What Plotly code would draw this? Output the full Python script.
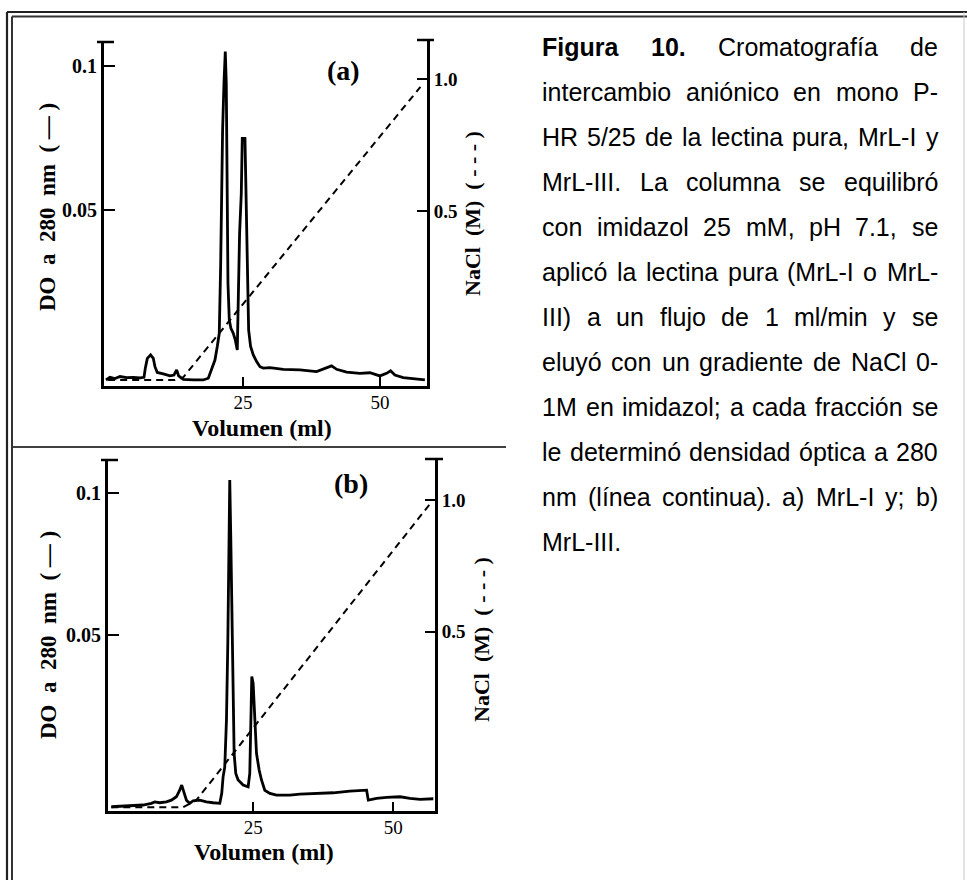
import plotly.graph_objects as go

W, H = 967, 880

# ---------------- data ----------------
# Panel (a): MrL-I
vol_a = [0.0, 0.73, 1.65, 2.56, 3.77, 4.99, 6.21, 6.94, 7.18, 7.55, 8.15, 8.64, 8.94, 9.37,
         10.47, 11.68, 12.41, 12.90, 13.26, 14.11, 15.94, 17.76, 18.68, 19.29, 19.89, 20.32,
         20.68, 20.93, 21.11, 21.29, 21.54, 21.78, 21.96, 22.08, 22.27, 22.51, 22.81, 23.24,
         23.60, 23.97, 24.15, 24.39, 24.70, 24.88, 25.37, 25.55, 25.79, 26.04, 26.40, 26.89,
         27.50, 28.11, 28.71, 29.93, 32.36, 35.40, 38.45, 39.97, 41.18, 42.10, 43.92, 46.35,
         48.18, 50.00, 51.22, 51.95, 52.74, 54.26, 56.09, 58.21]
do_a = [-0.0091, -0.0082, -0.0086, -0.0079, -0.0083, -0.0082, -0.0084, -0.0082, -0.0050,
        -0.0016, -0.0004, -0.0016, -0.0045, -0.0065, -0.0070, -0.0077, -0.0074, -0.0056,
        -0.0077, -0.0089, -0.0091, -0.0091, -0.0085, -0.0056, -0.0022, 0.0025, 0.0071,
        0.0302, 0.0615, 0.0777, 0.0939, 0.1049, 0.0939, 0.0650, 0.0245, 0.0117, 0.0088,
        0.0071, 0.0048, 0.0013, 0.0187, 0.0418, 0.0557, 0.0748, 0.0748, 0.0580, 0.0360,
        0.0083, 0.0025, -0.0004, -0.0027, -0.0045, -0.0050, -0.0048, -0.0054, -0.0056,
        -0.0062, -0.0050, -0.0042, -0.0054, -0.0064, -0.0068, -0.0066, -0.0077, -0.0068,
        -0.0059, -0.0074, -0.0083, -0.0087, -0.0091]
nacl_vol_a = [0.4, 12.6, 14.1, 57.4]
nacl_a = [-0.14, -0.14, -0.13, 0.97]

# Panel (b): MrL-III
vol_b = [-0.30, 1.19, 3.57, 5.36, 6.85, 7.44, 8.33, 9.52, 10.42, 11.31, 11.90, 12.26, 12.62,
         13.10, 13.69, 14.29, 15.48, 16.67, 17.86, 19.05, 19.40, 19.64, 19.94, 20.24, 20.48,
         20.65, 20.83, 21.01, 21.19, 21.37, 21.61, 21.90, 22.32, 23.21, 24.11, 24.40, 24.58,
         24.76, 25.00, 25.18, 25.36, 25.60, 26.07, 26.49, 27.08, 27.98, 29.17, 31.55, 33.33,
         36.31, 39.29, 42.26, 44.05, 45.24, 45.54, 47.02, 48.81, 51.19, 52.98, 54.76, 57.14]
do_b = [-0.0103, -0.0101, -0.0097, -0.0097, -0.0091, -0.0086, -0.0089, -0.0086, -0.0080,
        -0.0068, -0.0045, -0.0027, -0.0050, -0.0080, -0.0091, -0.0082, -0.0080, -0.0086,
        -0.0089, -0.0091, -0.0056, 0.0002, 0.0037, 0.0201, 0.0471, 0.0728, 0.1044, 0.0845,
        0.0600, 0.0260, 0.0084, 0.0014, -0.0009, -0.0027, -0.0033, 0.0014, 0.0260, 0.0354,
        0.0330, 0.0237, 0.0143, 0.0084, 0.0026, -0.0009, -0.0045, -0.0056, -0.0062, -0.0062,
        -0.0059, -0.0056, -0.0054, -0.0048, -0.0047, -0.0045, -0.0080, -0.0074, -0.0070,
        -0.0068, -0.0074, -0.0077, -0.0075]
nacl_vol_b = [-0.3, 12.5, 14.9, 56.6]
nacl_b = [-0.167, -0.167, -0.139, 0.987]

vol_ticks = [25, 50]
vol_ticktext = ["25", "50"]
do_ticks = [0.05, 0.1]
do_ticktext = ["0.05", "0.1"]
nacl_ticks = [0.5, 1.0]
nacl_ticktext = ["0.5", "1.0"]

caption_lines = [
    "Figura 10. Cromatografía de",
    "intercambio aniónico en mono P-",
    "HR 5/25 de la lectina pura, MrL-I y",
    "MrL-III. La columna se equilibró",
    "con imidazol 25 mM, pH 7.1, se",
    "aplicó la lectina pura (MrL-I o MrL-",
    "III) a un flujo de 1 ml/min y se",
    "eluyó con un gradiente de NaCl 0-",
    "1M en imidazol; a cada fracción se",
    "le determinó densidad óptica a 280",
    "nm (línea continua). a) MrL-I y; b)",
    "MrL-III.",
]
caption_bold_words = 2  # "Figura 10." is bold

# ---------------- helpers ----------------
def px(x):
    return x / W

def py(y):
    return 1 - y / H

SERIF = "Liberation Serif, Times New Roman, serif"
SANS = "Liberation Sans, Arial, sans-serif"

AR = {' ': 278, '(': 333, ')': 333, ',': 278, '-': 333, '.': 278, '/': 278, ':': 278, ';': 278,
      'A': 667, 'B': 667, 'C': 722, 'D': 722, 'E': 667, 'F': 611, 'G': 778, 'H': 722, 'I': 278,
      'J': 500, 'K': 667, 'L': 556, 'M': 833, 'N': 722, 'O': 778, 'P': 667, 'Q': 778, 'R': 722,
      'S': 667, 'T': 611, 'U': 722, 'V': 667, 'W': 944, 'X': 667, 'Y': 667, 'Z': 611,
      'a': 556, 'b': 556, 'c': 500, 'd': 556, 'e': 556, 'f': 278, 'g': 556, 'h': 556, 'i': 222,
      'j': 222, 'k': 500, 'l': 222, 'm': 833, 'n': 556, 'o': 556, 'p': 556, 'q': 556, 'r': 333,
      's': 500, 't': 278, 'u': 556, 'v': 500, 'w': 722, 'x': 500, 'y': 500, 'z': 500,
      'á': 556, 'é': 556, 'í': 278, 'ó': 556, 'ú': 556}
ARB = dict(AR)
ARB.update({'a': 556, 'b': 611, 'd': 611, 'f': 333, 'g': 611, 'i': 278, 'l': 278, 'm': 889,
            'n': 611, 'o': 611, 'p': 611, 'r': 389, 's': 556, 't': 333, 'u': 611, 'F': 611})


def text_w(s, size, bold=False):
    tab = ARB if bold else AR
    return sum(tab.get(c, 556) for c in s) * size / 1000.0


fig = go.Figure()

# ---------------- traces ----------------
fig.add_trace(go.Scatter(x=vol_a, y=do_a, mode="lines", line=dict(color="black", width=2.8),
                         xaxis="x", yaxis="y", showlegend=False))
fig.add_trace(go.Scatter(x=nacl_vol_a, y=nacl_a, mode="lines",
                         line=dict(color="black", width=2, dash="7px,5px"),
                         xaxis="x", yaxis="y2", showlegend=False))
fig.add_trace(go.Scatter(x=vol_b, y=do_b, mode="lines", line=dict(color="black", width=2.8),
                         xaxis="x2", yaxis="y3", showlegend=False))
fig.add_trace(go.Scatter(x=nacl_vol_b, y=nacl_b, mode="lines",
                         line=dict(color="black", width=2, dash="7px,5px"),
                         xaxis="x2", yaxis="y4", showlegend=False))

# ---------------- axes ----------------
def xax(domain, rng, anchor):
    return dict(domain=domain, range=rng, anchor=anchor, showgrid=False, zeroline=False,
                showline=True, linecolor="black", linewidth=3, ticks="inside", ticklen=9,
                tickwidth=2, tickcolor="black", tickvals=vol_ticks, ticktext=vol_ticktext,
                ticklabelstandoff=-3,
                tickfont=dict(family=SERIF, size=19, color="black"))


def yleft(domain, rng, anchor):
    return dict(domain=domain, range=rng, anchor=anchor, showgrid=False, zeroline=False,
                showline=True, linecolor="black", linewidth=3, ticks="inside", ticklen=11,
                tickwidth=2, tickcolor="black", tickvals=do_ticks, ticktext=do_ticktext,
                tickfont=dict(family=SERIF, size=20, color="black", weight="bold"))


def yright(rng, anchor, overlay):
    return dict(range=rng, anchor=anchor, overlaying=overlay, side="right", showgrid=False,
                zeroline=False, showline=True, linecolor="black", linewidth=3, ticks="inside",
                ticklen=10, tickwidth=2, tickcolor="black", tickvals=nacl_ticks,
                ticktext=nacl_ticktext,
                tickfont=dict(family=SERIF, size=19, color="black", weight="bold"))


fig.update_layout(
    xaxis=xax([px(104), px(427)], [-0.36, 58.6], "y"),
    yaxis=yleft([py(386), py(41)], [-0.0112, 0.1086], "x"),
    yaxis2=yright([-0.163, 1.144], "x", "y"),
    xaxis2=xax([px(108), px(435)], [-0.89, 57.44], "y3"),
    yaxis3=yleft([py(811), py(459)], [-0.0118, 0.1118], "x2"),
    yaxis4=yright([-0.181, 1.156], "x2", "y3"),
)

# ---------------- decorations ----------------
shapes = []

def hline(x0, x1, y, w=2.5, color="black"):
    shapes.append(dict(type="line", xref="paper", yref="paper", x0=px(x0), x1=px(x1),
                       y0=py(y), y1=py(y), line=dict(color=color, width=w)))

def vline(x, y0, y1, w=2.5, color="black"):
    shapes.append(dict(type="line", xref="paper", yref="paper", x0=px(x), x1=px(x),
                       y0=py(y0), y1=py(y1), line=dict(color=color, width=w)))

# double frame
hline(7, 967, 12, 2.2, "#222")
hline(12, 967, 16.5, 2.0, "#333")
vline(7, 12, 880, 2.2, "#222")
vline(12, 16.5, 880, 2.0, "#333")
vline(964, 12, 880, 1, "#c8c8c8")
# separator between panels
hline(13, 506, 447, 1.6)
# caps at top of the vertical axes
hline(97, 114, 42, 2.5)
hline(417, 434, 40, 2.5)
hline(101, 118, 460, 2.5)
hline(425, 443, 459, 2.5)
fig.update_layout(shapes=shapes)

# ---------------- annotations ----------------
ann = []

def label(x, y, text, size, angle=0, family=SERIF, bold=True):
    ann.append(dict(x=px(x), y=py(y), xref="paper", yref="paper", text=text, showarrow=False,
                    textangle=angle, xanchor="center", yanchor="middle",
                    font=dict(family=family, size=size, color="black",
                              weight="bold" if bold else "normal")))

NB = "\u00a0"
do_title = f"DO{NB}{NB}a{NB}{NB}280{NB}{NB}nm{NB}{NB}({NB}—{NB})"
nacl_title = f"NaCl{NB}{NB}(M){NB}{NB}({NB}-{NB}-{NB}-{NB})"

label(47, 207, do_title, 23, -90)
label(472, 214, nacl_title, 22, -90)
label(262, 428, "Volumen (ml)", 24)
label(343, 70, "(a)", 28)

label(48, 635, do_title, 23, -90)
label(481, 640, nacl_title, 22, -90)
label(264, 852, "Volumen (ml)", 24)
label(351, 483, "(b)", 28)

# caption, justified word by word
CAP_SIZE = 25
CAP_L, CAP_R = 541, 937
CAP_Y0, CAP_DY = 47, 45
for i, line in enumerate(caption_lines):
    words = line.split(" ")
    bolds = [(i == 0 and k < caption_bold_words) for k in range(len(words))]
    widths = [text_w(w, CAP_SIZE, b) for w, b in zip(words, bolds)]
    last = i == len(caption_lines) - 1
    if last or len(words) == 1:
        gap = text_w(" ", CAP_SIZE)
    else:
        gap = (CAP_R - CAP_L - sum(widths)) / (len(words) - 1)
    x = CAP_L
    yy = CAP_Y0 + i * CAP_DY
    for w, b, wd in zip(words, bolds, widths):
        ann.append(dict(x=px(x), y=py(yy), xref="paper", yref="paper", text=w,
                        showarrow=False, xanchor="left", yanchor="middle", borderpad=0,
                        font=dict(family=SANS, size=CAP_SIZE, color="black",
                                  weight="bold" if b else "normal")))
        x += wd + gap

fig.update_layout(annotations=ann)

fig.update_layout(width=W, height=H, margin=dict(l=0, r=0, t=0, b=0, pad=0),
                  paper_bgcolor="white", plot_bgcolor="rgba(0,0,0,0)", showlegend=False)

fig.write_html("out.html", include_plotlyjs=True, config={"displayModeBar": False})
